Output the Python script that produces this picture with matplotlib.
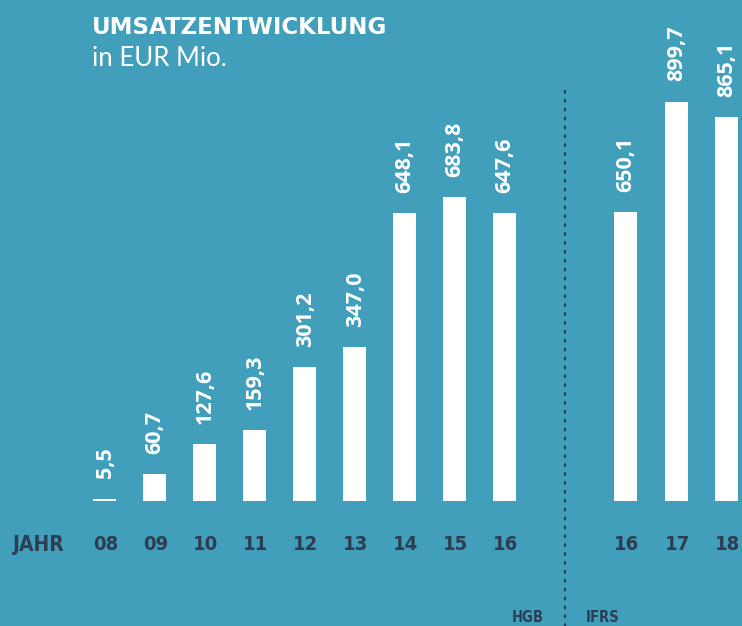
import matplotlib.pyplot as plt
from matplotlib.transforms import blended_transform_factory

# Data
years = ['08', '09', '10', '11', '12', '13', '14', '15', '16', '16', '17', '18']
revenue = [5.5, 60.7, 127.6, 159.3, 301.2, 347.0, 648.1, 683.8, 647.6, 650.1, 899.7, 865.1]
labels = ['5,5', '60,7', '127,6', '159,3', '301,2', '347,0', '648,1', '683,8', '647,6',
          '650,1', '899,7', '865,1']

# Layout: HGB years 0..8, IFRS years shifted right after the divider
xpos = list(range(9)) + [10.42, 11.44, 12.44]

bg = '#419fbc'
dark = '#2d3e50'

fig = plt.figure(figsize=(7.42, 6.26), dpi=100)
fig.patch.set_facecolor(bg)
ax = fig.add_axes([0, 0, 1, 1])
ax.set_facecolor(bg)

ax.bar(xpos, revenue, width=0.46, color='white', zorder=3)
ax.set_xlim(-2.09, 12.75)
ax.set_ylim(-281.5, 1128.4)
ax.axis('off')

# Value labels above bars
for x, v, lab in zip(xpos, revenue, labels):
    ax.annotate(lab, (x, v), xytext=(0.5, 14.5), textcoords='offset points',
                rotation=90, ha='center', va='bottom', color='white',
                fontsize=15.5, fontweight='bold', family='Open Sans')

# Year labels
tr = blended_transform_factory(ax.transData, fig.transFigure)
for x, y in zip(xpos, years):
    ax.text(x + 0.03, 1 - 545 / 626, y, transform=tr, ha='center', va='center',
            color=dark, fontsize=14.5, fontweight='bold', family='DejaVu Sans',
            fontstretch='condensed')
fig.text(12 / 742, 1 - 545 / 626, 'JAHR', ha='left', va='center', color=dark,
         fontsize=15, fontweight='bold', family='DejaVu Sans', fontstretch='condensed')

# Divider between HGB and IFRS
ax.plot([9.21, 9.21], [-281.5, 926], color=dark, lw=1.6, ls=(0, (0.8, 3.2)),
        dash_capstyle='round', zorder=2)
fig.text(528 / 742, 1 - 618 / 626, 'HGB', ha='center', va='center', color=dark,
         fontsize=10.5, fontweight='bold', family='DejaVu Sans', fontstretch='condensed')
fig.text(603 / 742, 1 - 618 / 626, 'IFRS', ha='center', va='center', color=dark,
         fontsize=10.5, fontweight='bold', family='DejaVu Sans', fontstretch='condensed')

# Title
fig.text(92 / 742, 1 - 34 / 626, 'UMSATZENTWICKLUNG', ha='left', va='baseline',
         color='white', fontsize=16.5, fontweight='bold', family='DejaVu Sans')
fig.text(92 / 742, 1 - 66 / 626, 'in EUR Mio.', ha='left', va='baseline',
         color='white', fontsize=18.5, fontweight='normal', family='Lato')

fig.savefig('out.png', dpi=100, facecolor=bg)
